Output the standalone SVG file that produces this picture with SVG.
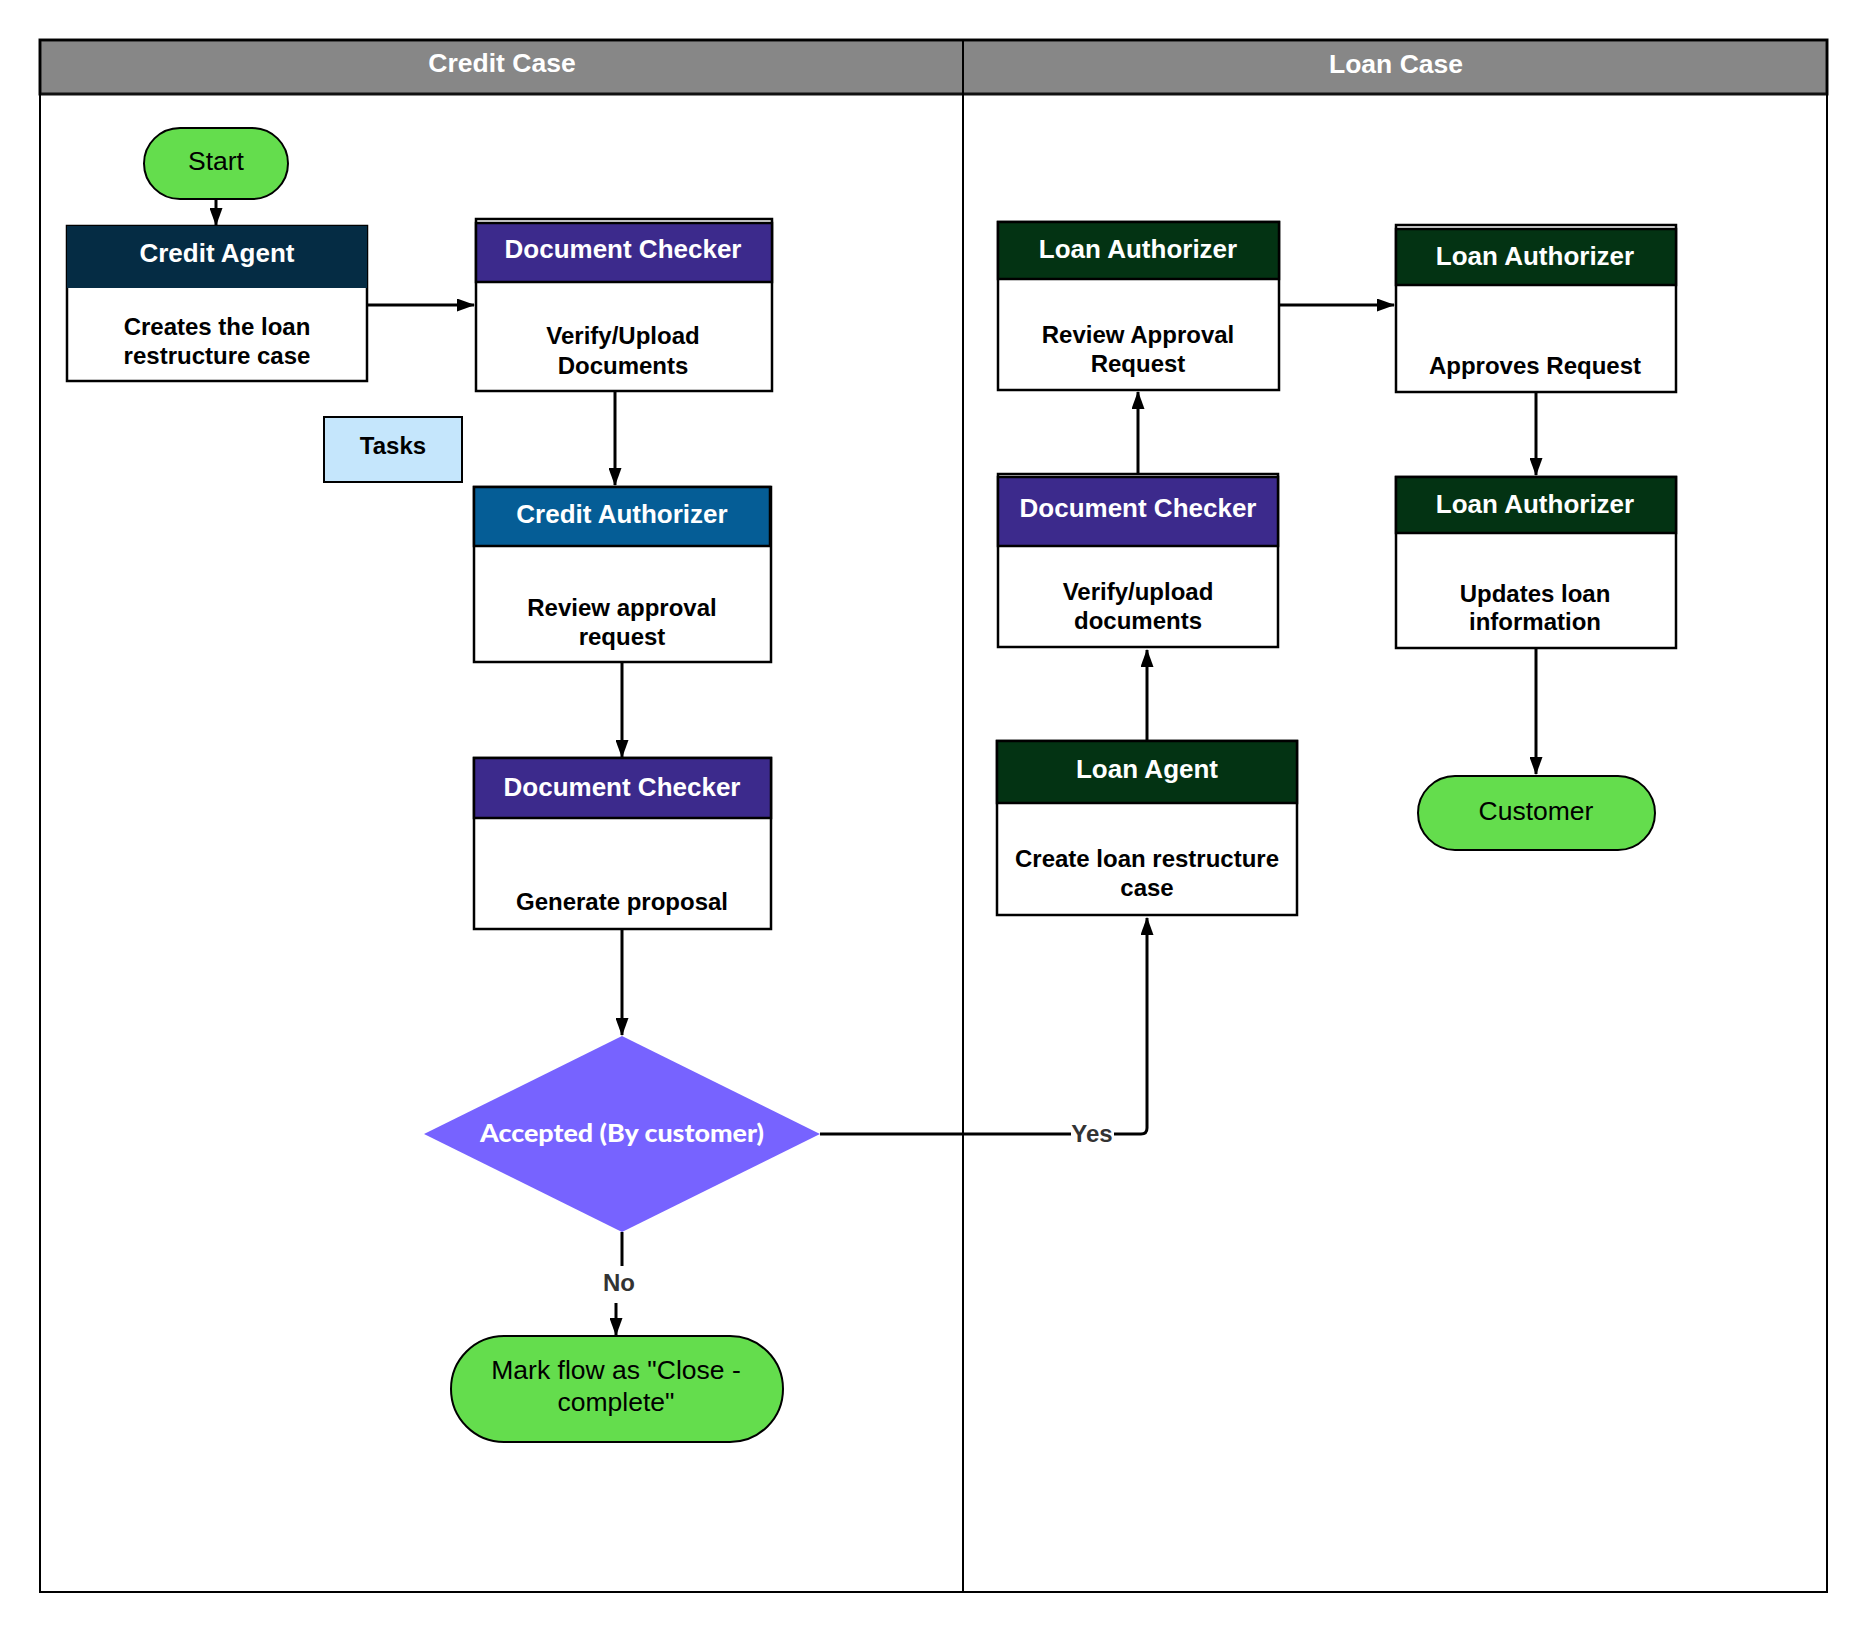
<svg xmlns="http://www.w3.org/2000/svg" width="1869" height="1633" viewBox="0 0 1869 1633">
<style>
.lane{fill:none;stroke:#000;stroke-width:2}
.lanehead{fill:#878787;stroke:#111;stroke-width:3}
.lanetxt{font-family:"Liberation Sans",Arial,sans-serif;font-weight:bold;font-size:26.5px;fill:#fff;text-anchor:middle}
.box{fill:#fff;stroke:#000;stroke-width:2.5}
.hd{stroke:#000;stroke-width:2.5}
.hdtxt{font-family:"Liberation Sans",Arial,sans-serif;font-weight:bold;font-size:26px;fill:#fff;text-anchor:middle}
.bodytxt{font-family:"Liberation Sans",Arial,sans-serif;font-weight:bold;font-size:24px;fill:#000;text-anchor:middle}
.term{fill:#64dd4d;stroke:#000;stroke-width:2}
.termtxt{font-family:"Liberation Sans",Arial,sans-serif;font-size:26.5px;fill:#000;text-anchor:middle}
.conn{fill:none;stroke:#000;stroke-width:3}
.lbl{font-family:"Liberation Sans",Arial,sans-serif;font-weight:bold;font-size:24px;fill:#333;text-anchor:middle}
.navy{fill:#052c44}
.purple{fill:#3c2a8c}
.blue{fill:#055d96}
.green{fill:#033313}
</style>
<defs>
<marker id="arr" markerWidth="18" markerHeight="13" refX="17" refY="6.5" orient="auto" markerUnits="userSpaceOnUse">
<path d="M0,0 L18,6.5 L0,13 Z" fill="#000"/>
</marker>
</defs>
<rect width="1869" height="1633" fill="#fff"/>

<g id="lanes">
<rect class="lanehead" x="40" y="40" width="1787" height="54"/>
<rect class="lane" x="40" y="40" width="1787" height="1552"/>
<line class="lane" x1="963" y1="40" x2="963" y2="1592"/>
<text class="lanetxt" x="502" y="72">Credit Case</text>
<text class="lanetxt" x="1396" y="73">Loan Case</text>
</g>

<g id="connectors">
<line class="conn" x1="216" y1="199" x2="216" y2="225" marker-end="url(#arr)"/>
<line class="conn" x1="367" y1="305" x2="474" y2="305" marker-end="url(#arr)"/>
<line class="conn" x1="615" y1="391" x2="615" y2="485" marker-end="url(#arr)"/>
<line class="conn" x1="622" y1="662" x2="622" y2="757" marker-end="url(#arr)"/>
<line class="conn" x1="622" y1="929" x2="622" y2="1035" marker-end="url(#arr)"/>
<path class="conn" d="M820,1134 L1071,1134 M1114,1134 L1141,1134 Q1147,1134 1147,1128 L1147,918" marker-end="url(#arr)"/>
<text class="lbl" x="1092" y="1142">Yes</text>
<line class="conn" x1="622" y1="1232" x2="622" y2="1266"/>
<text class="lbl" x="619" y="1291">No</text>
<line class="conn" x1="616" y1="1303" x2="616" y2="1335" marker-end="url(#arr)"/>
<line class="conn" x1="1147" y1="741" x2="1147" y2="650" marker-end="url(#arr)"/>
<line class="conn" x1="1138" y1="476" x2="1138" y2="392" marker-end="url(#arr)"/>
<line class="conn" x1="1279" y1="305" x2="1394" y2="305" marker-end="url(#arr)"/>
<line class="conn" x1="1536" y1="392" x2="1536" y2="475" marker-end="url(#arr)"/>
<line class="conn" x1="1536" y1="648" x2="1536" y2="774" marker-end="url(#arr)"/>
</g>

<g id="start">
<rect class="term" x="144" y="128" width="144" height="71" rx="36" ry="36"/>
<text class="termtxt" x="216" y="170">Start</text>
</g>

<g id="credit-agent">
<rect class="box" x="67" y="226" width="300" height="155"/>
<rect class="navy" x="67" y="226" width="300" height="62"/>
<text class="hdtxt" x="217" y="262">Credit Agent</text>
<text class="bodytxt" x="217" y="335">Creates the loan</text>
<text class="bodytxt" x="217" y="364">restructure case</text>
</g>

<g id="doc-checker-1">
<rect class="box" x="476" y="219" width="296" height="172"/>
<rect class="hd purple" x="476" y="223" width="296" height="59"/>
<text class="hdtxt" x="623" y="258">Document Checker</text>
<text class="bodytxt" x="623" y="344">Verify/Upload</text>
<text class="bodytxt" x="623" y="374">Documents</text>
</g>

<g id="tasks">
<rect x="324" y="417" width="138" height="65" fill="#c5e6fc" stroke="#000" stroke-width="2"/>
<text class="bodytxt" x="393" y="454">Tasks</text>
</g>

<g id="credit-authorizer">
<rect class="box" x="474" y="487" width="297" height="175"/>
<rect class="hd blue" x="474" y="487" width="296" height="59"/>
<text class="hdtxt" x="622" y="523">Credit Authorizer</text>
<text class="bodytxt" x="622" y="616">Review approval</text>
<text class="bodytxt" x="622" y="645">request</text>
</g>

<g id="doc-checker-2">
<rect class="box" x="474" y="758" width="297" height="171"/>
<rect class="hd purple" x="474" y="758" width="297" height="60"/>
<text class="hdtxt" x="622" y="796">Document Checker</text>
<text class="bodytxt" x="622" y="910">Generate proposal</text>
</g>

<g id="decision">
<polygon points="622,1036 820,1134 622,1232 424,1134" fill="#7763ff"/>
<text x="622" y="1142" font-family="Lato,'Liberation Sans',sans-serif" font-weight="900" font-size="24" fill="#fff" text-anchor="middle" textLength="284" lengthAdjust="spacingAndGlyphs">Accepted (By customer)</text>
</g>

<g id="close-complete">
<rect class="term" x="451" y="1336" width="332" height="106" rx="53" ry="53"/>
<text class="termtxt" x="616" y="1379">Mark flow as "Close -</text>
<text class="termtxt" x="616" y="1411">complete"</text>
</g>

<g id="loan-agent">
<rect class="box" x="997" y="741" width="300" height="174"/>
<rect class="hd green" x="997" y="741" width="300" height="62"/>
<text class="hdtxt" x="1147" y="778">Loan Agent</text>
<text class="bodytxt" x="1147" y="867">Create loan restructure</text>
<text class="bodytxt" x="1147" y="896">case</text>
</g>

<g id="doc-checker-3">
<rect class="box" x="998" y="474" width="280" height="173"/>
<rect class="hd purple" x="998" y="477" width="280" height="69"/>
<text class="hdtxt" x="1138" y="517">Document Checker</text>
<text class="bodytxt" x="1138" y="600">Verify/upload</text>
<text class="bodytxt" x="1138" y="629">documents</text>
</g>

<g id="loan-authorizer-1">
<rect class="box" x="998" y="222" width="281" height="168"/>
<rect class="hd green" x="998" y="222" width="281" height="57"/>
<text class="hdtxt" x="1138" y="258">Loan Authorizer</text>
<text class="bodytxt" x="1138" y="343">Review Approval</text>
<text class="bodytxt" x="1138" y="372">Request</text>
</g>

<g id="loan-authorizer-2">
<rect class="box" x="1396" y="225" width="280" height="167"/>
<rect class="hd green" x="1396" y="229" width="280" height="56"/>
<text class="hdtxt" x="1535" y="265">Loan Authorizer</text>
<text class="bodytxt" x="1535" y="374">Approves Request</text>
</g>

<g id="loan-authorizer-3">
<rect class="box" x="1396" y="477" width="280" height="171"/>
<rect class="hd green" x="1396" y="477" width="280" height="56"/>
<text class="hdtxt" x="1535" y="513">Loan Authorizer</text>
<text class="bodytxt" x="1535" y="602">Updates loan</text>
<text class="bodytxt" x="1535" y="630">information</text>
</g>

<g id="customer">
<rect class="term" x="1418" y="776" width="237" height="74" rx="37" ry="37"/>
<text class="termtxt" x="1536" y="820">Customer</text>
</g>
</svg>
